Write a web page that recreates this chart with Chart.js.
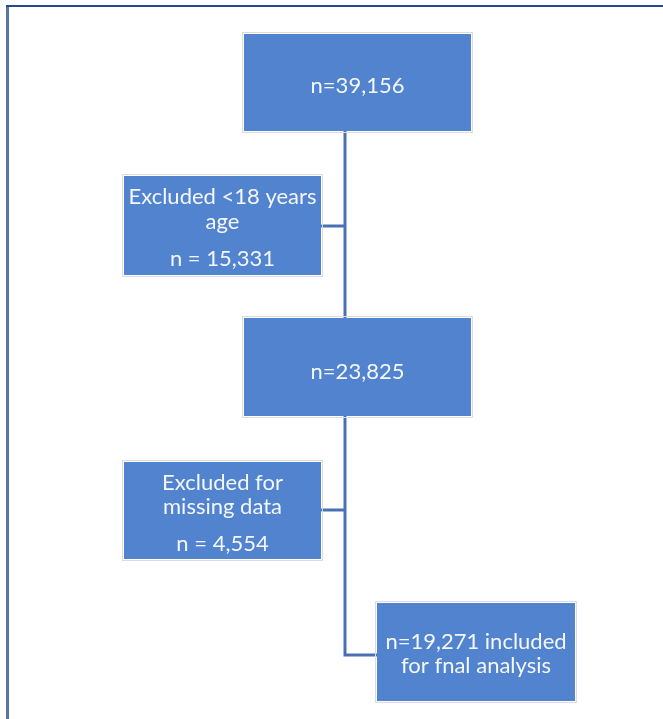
<!DOCTYPE html>
<html>
<head>
<meta charset="utf-8">
<script src="https://cdn.jsdelivr.net/npm/chart.js@4/dist/chart.umd.min.js"></script>
<style>
  html, body { margin: 0; padding: 0; background: #fff; }
  canvas { display: block; }
</style>
</head>
<body>
<canvas id="flow" width="663" height="719"></canvas>
<script>
// flow chart nodes: text of each box
const nodeText = [
  ['n=39,156'],
  ['Excluded <18 years', 'age', 'n = 15,331'],
  ['n=23,825'],
  ['Excluded for', 'missing data', 'n = 4,554'],
  ['n=19,271 included', 'for fnal analysis']
];
const nodeCounts = [39156, 15331, 23825, 4554, 19271];

// layout (in px, the scales map 1:1 to the canvas)
const boxes = [
  { x0: 244, x1: 471, y0: 34, y1: 131, lines: [86] },
  { x0: 124, x1: 321, y0: 176, y1: 275, lines: [197, 222, 259] },
  { x0: 244, x1: 471, y0: 318, y1: 416, lines: [372] },
  { x0: 124, x1: 321, y0: 462, y1: 559, lines: [483, 507, 544] },
  { x0: 377, x1: 575, y0: 603, y1: 701, lines: [642, 666] }
];
const connectors = [
  [{ x: 345, y: 131 }, { x: 345, y: 318 }],
  [{ x: 321, y: 226 }, { x: 345, y: 226 }],
  [{ x: 345, y: 416 }, { x: 345, y: 655 }, { x: 377, y: 655 }],
  [{ x: 321, y: 510 }, { x: 345, y: 510 }]
];

const boxPlugin = {
  id: 'boxes',
  beforeDraw(chart) {
    const ctx = chart.ctx;
    ctx.save();
    ctx.fillStyle = '#fff';
    ctx.fillRect(0, 0, chart.width, chart.height);
    // frame
    ctx.strokeStyle = '#5a74a8';
    ctx.lineWidth = 3;
    ctx.beginPath();
    ctx.moveTo(7.5, 6);
    ctx.lineTo(7.5, 719);
    ctx.stroke();
    ctx.strokeStyle = '#24498f';
    ctx.lineWidth = 2;
    ctx.beginPath();
    ctx.moveTo(6, 6);
    ctx.lineTo(663, 6);
    ctx.stroke();
    ctx.restore();
  },
  afterDatasetsDraw(chart) {
    const ctx = chart.ctx;
    const sx = chart.scales.x, sy = chart.scales.y;
    ctx.save();
    boxes.forEach((b, i) => {
      const x0 = sx.getPixelForValue(b.x0), x1 = sx.getPixelForValue(b.x1);
      const y0 = sy.getPixelForValue(b.y0), y1 = sy.getPixelForValue(b.y1);
      ctx.strokeStyle = '#dcdcdc';
      ctx.lineWidth = 1;
      ctx.strokeRect(x0 - 1.5, y0 - 1.5, x1 - x0 + 3, y1 - y0 + 3);
      ctx.fillStyle = '#5283ce';
      ctx.fillRect(x0, y0, x1 - x0, y1 - y0);
      ctx.fillStyle = '#f4f7fc';
      ctx.font = '22px Lato, "Open Sans", sans-serif';
      ctx.textAlign = 'center';
      ctx.textBaseline = 'middle';
      const cx = (x0 + x1) / 2;
      nodeText[i].forEach((t, j) => {
        ctx.fillText(t, cx, sy.getPixelForValue(b.lines[j]));
      });
    });
    ctx.restore();
  }
};

new Chart(document.getElementById('flow'), {
  type: 'scatter',
  data: {
    datasets: connectors.map(c => ({
      data: c,
      showLine: true,
      borderColor: '#4a70b4',
      borderWidth: 3,
      pointRadius: 0,
      fill: false
    }))
  },
  options: {
    responsive: false,
    animation: false,
    layout: { padding: 0 },
    plugins: { legend: { display: false }, tooltip: { enabled: false } },
    scales: {
      x: { type: 'linear', min: 0, max: 663, display: false },
      y: { type: 'linear', min: 0, max: 719, reverse: true, display: false }
    }
  },
  plugins: [boxPlugin]
});
</script>
</body>
</html>
